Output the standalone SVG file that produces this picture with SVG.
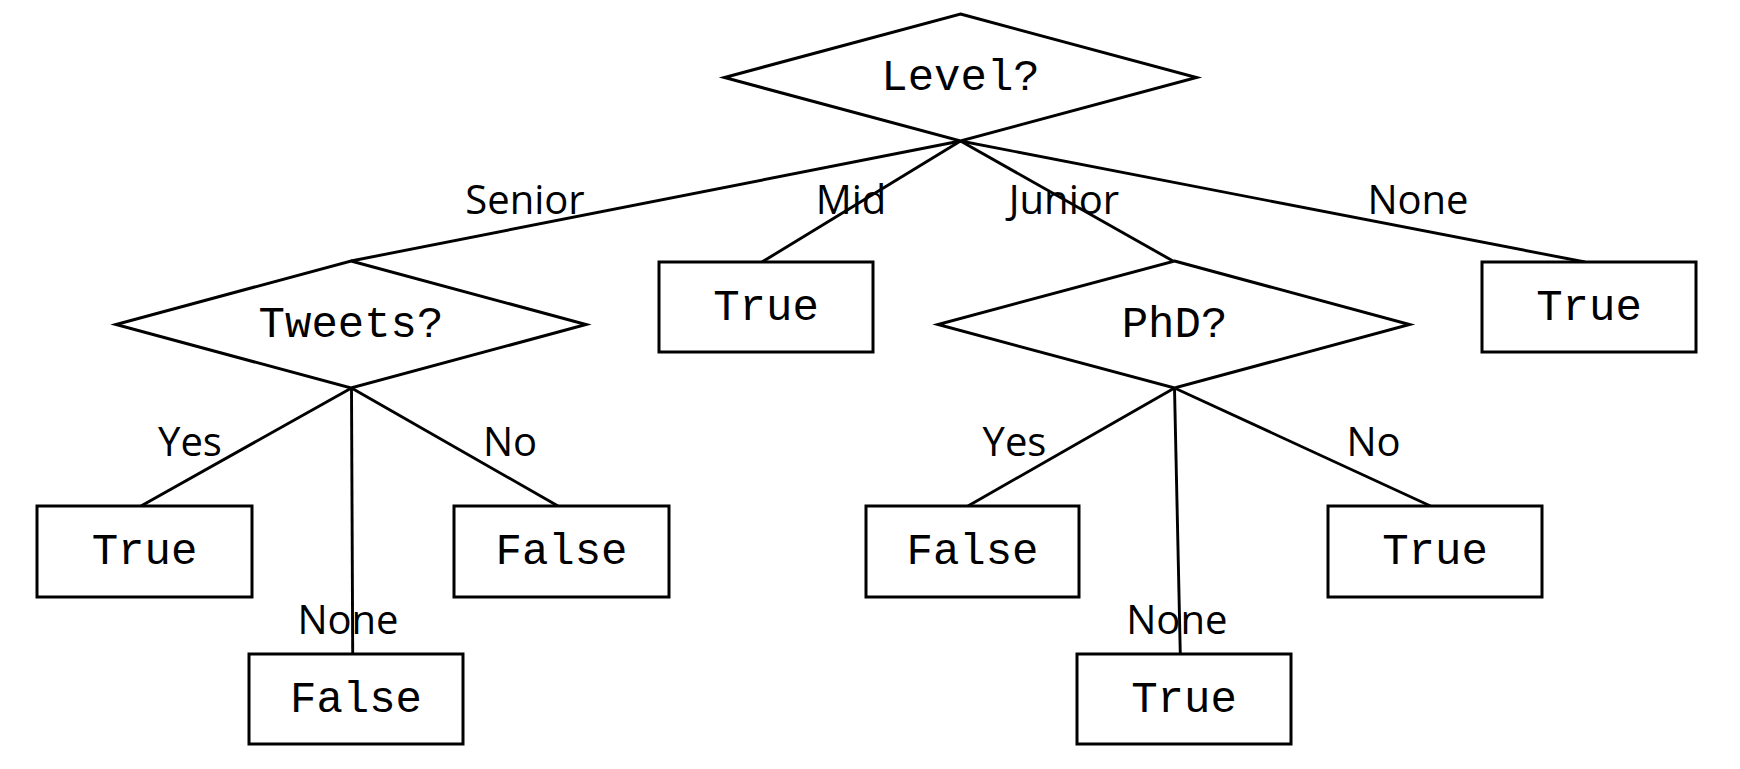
<svg xmlns="http://www.w3.org/2000/svg" width="1740" height="769" viewBox="0 0 1740 769">
<style>
.shape{fill:#fff;stroke:#000;stroke-width:3}
.edge{stroke:#000;stroke-width:2.9;fill:none}
.mono{font-family:"Liberation Mono","Courier New",monospace;font-size:44px;text-anchor:middle;fill:#000}
.lbl{font-family:"Open Sans","DejaVu Sans",sans-serif;font-size:40px;text-anchor:middle;fill:#000}
</style>
<rect width="1740" height="769" fill="#fff"/>
<g id="connectors">
<line class="edge" x1="960.5" y1="141" x2="351" y2="261"/>
<line class="edge" x1="960.5" y1="141" x2="762" y2="262"/>
<line class="edge" x1="960.5" y1="141" x2="1173" y2="261"/>
<line class="edge" x1="960.5" y1="141" x2="1585" y2="262"/>
<line class="edge" x1="351.5" y1="388" x2="141" y2="506"/>
<line class="edge" x1="351.5" y1="388" x2="558" y2="506"/>
<line class="edge" x1="351.5" y1="388" x2="352.7" y2="654"/>
<line class="edge" x1="1174.5" y1="388" x2="968" y2="506"/>
<line class="edge" x1="1174.5" y1="388" x2="1430.5" y2="506"/>
<line class="edge" x1="1174.5" y1="388" x2="1180.3" y2="654"/>
<text class="lbl" x="525" y="214">Senior</text>
<text class="lbl" x="851" y="214">Mid</text>
<text class="lbl" x="1064" y="214">Junior</text>
<text class="lbl" x="1418" y="214">None</text>
<text class="lbl" x="190" y="456">Yes</text>
<text class="lbl" x="510" y="456">No</text>
<text class="lbl" x="348" y="634">None</text>
<text class="lbl" x="1014.5" y="456">Yes</text>
<text class="lbl" x="1373.6" y="456">No</text>
<text class="lbl" x="1176.8" y="634">None</text>
</g>
<g id="level">
<polygon class="shape" points="960.5,14 1196.5,77.5 960.5,141 724.5,77.5"/>
<text class="mono" x="960.5" y="90">Level?</text>
</g>
<g id="tweets">
<polygon class="shape" points="351,261 586,324.5 351,388 116,324.5"/>
<text class="mono" x="351" y="337">Tweets?</text>
</g>
<g id="phd">
<polygon class="shape" points="1174.5,261 1409.5,324.5 1174.5,388 938,324.5"/>
<text class="mono" x="1174.5" y="337">PhD?</text>
</g>
<g id="mid-true">
<rect class="shape" x="659" y="262" width="214" height="90"/>
<text class="mono" x="766" y="320">True</text>
</g>
<g id="none-true">
<rect class="shape" x="1482" y="262" width="214" height="90"/>
<text class="mono" x="1589" y="320">True</text>
</g>
<g id="tweets-yes">
<rect class="shape" x="37" y="506" width="215" height="91"/>
<text class="mono" x="144.5" y="564">True</text>
</g>
<g id="tweets-no">
<rect class="shape" x="454" y="506" width="215" height="91"/>
<text class="mono" x="561.5" y="564">False</text>
</g>
<g id="tweets-none">
<rect class="shape" x="249" y="654" width="214" height="90"/>
<text class="mono" x="356" y="712">False</text>
</g>
<g id="phd-yes">
<rect class="shape" x="866" y="506" width="213" height="91"/>
<text class="mono" x="972.5" y="564">False</text>
</g>
<g id="phd-no">
<rect class="shape" x="1328" y="506" width="214" height="91"/>
<text class="mono" x="1435" y="564">True</text>
</g>
<g id="phd-none">
<rect class="shape" x="1077" y="654" width="214" height="90"/>
<text class="mono" x="1184" y="712">True</text>
</g>
</svg>
